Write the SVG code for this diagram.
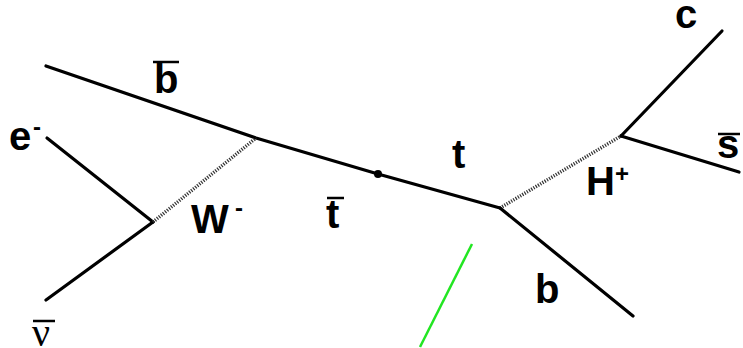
<svg xmlns="http://www.w3.org/2000/svg" width="743" height="348" viewBox="0 0 743 348">
<style>
.f{fill:none;stroke:#000;stroke-width:3.2;stroke-linecap:round;stroke-linejoin:round}
.d{fill:none;stroke:#333;stroke-width:3.5;stroke-dasharray:1.2 1.4}
.g{fill:none;stroke:#22e622;stroke-width:2.5}
.l{font-family:"Liberation Sans",Arial,sans-serif;font-weight:bold;font-size:40px;fill:#000}
.s{font-family:"Liberation Sans",Arial,sans-serif;font-weight:bold;font-size:24px;fill:#000}
.n{font-family:"Liberation Serif","Times New Roman",serif;font-size:40px;fill:#000}
.o{stroke:#000;stroke-width:2.5}
</style>
<rect width="743" height="348" fill="#fff"/>
<g id="connectors">
<polyline class="f" points="46,66 256,138 378,174 500,208"/>
<line class="f" x1="47" y1="138" x2="153" y2="222"/>
<line class="f" x1="153" y1="222" x2="46" y2="300"/>
<line class="d" x1="153" y1="222" x2="256" y2="138"/>
<line class="d" x1="500" y1="208" x2="621" y2="136"/>
<line class="f" x1="621" y1="136" x2="722" y2="31"/>
<line class="f" x1="621" y1="136" x2="739" y2="172"/>
<line class="f" x1="500" y1="208" x2="633" y2="316"/>
<line class="g" x1="472" y1="244" x2="420" y2="347"/>
<circle cx="378" cy="174" r="4" fill="#000"/>
</g>
<g id="label-bbar"><line class="o" x1="153" y1="62" x2="179" y2="62"/><text class="l" x="154" y="93">b</text></g>
<g id="label-e"><text class="l" x="9" y="150">e</text><text class="s" x="33" y="135">-</text></g>
<g id="label-W"><text class="l" x="191" y="233">W</text><text class="s" x="235" y="216">-</text></g>
<g id="label-tbar"><line class="o" x1="327" y1="198" x2="344" y2="198"/><text class="l" x="326" y="228">t</text></g>
<g id="label-t"><text class="l" x="452" y="168">t</text></g>
<g id="label-H"><text class="l" x="586" y="195">H</text><text class="s" x="615" y="182">+</text></g>
<g id="label-c"><text class="l" x="675" y="28">c</text></g>
<g id="label-sbar"><line class="o" x1="718" y1="134" x2="740" y2="134"/><text class="l" x="717" y="158">s</text></g>
<g id="label-b"><text class="l" x="535" y="303">b</text></g>
<g id="label-nubar"><line class="o" x1="33" y1="321" x2="55" y2="321"/><text class="n" x="32" y="346">ν</text></g>
</svg>
